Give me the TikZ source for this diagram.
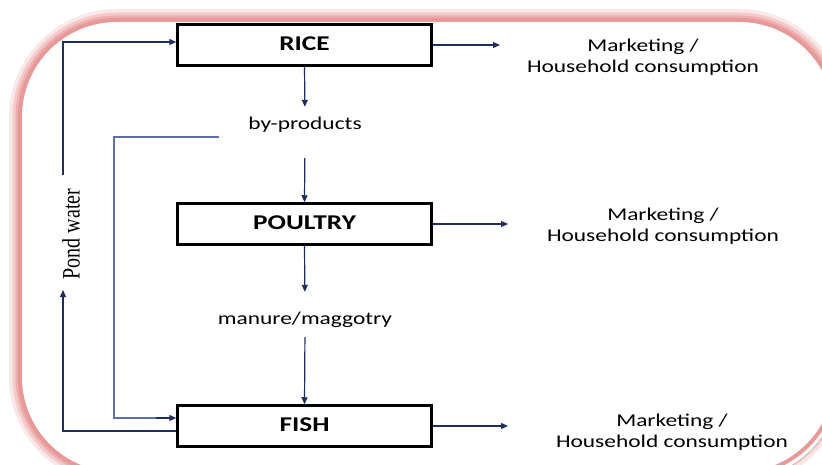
\documentclass[tikz,border=0pt]{standalone}
\usepackage{fontspec}
\setmainfont{Liberation Serif}
\newfontfamily\calib[FakeStretch=1.3]{Carlito}
\newfontfamily\pondfont[FakeStretch=0.8]{Liberation Serif}
\usetikzlibrary{arrows.meta,calc}
\definecolor{navy}{RGB}{31,45,95}
\definecolor{lblue}{RGB}{95,112,170}
\definecolor{glow}{RGB}{230,140,140}
\definecolor{shade}{RGB}{160,75,75}
\begin{document}
\begin{tikzpicture}[x=1pt,y=-1pt,
  box/.style={draw=black, line width=2.5pt, minimum width=254, minimum height=41, inner sep=0pt, text depth=3pt, font=\calib\bfseries\fontsize{21}{24}\selectfont},
  lbl/.style={inner sep=0pt, text height=12pt, text depth=4pt, font=\calib\fontsize{18}{21}\selectfont},
  mkt/.style={inner sep=0pt, align=center, font=\calib\fontsize{18}{21}\selectfont},
  pond/.style={inner sep=0pt, font=\pondfont\fontsize{25}{27}\selectfont},
  arr/.style={draw=navy, line width=1.2pt, -{Triangle[length=7pt,width=6pt]}},
  frame/.style={rounded corners=95}]
\useasboundingbox (0,0) rectangle (822,465);
% frame with glow
\begin{scope}
\clip (0,0) rectangle (822,465);
\draw[glow!20, line width=26pt, frame] (22,22) rectangle (834,472);
\draw[glow!45, line width=19pt, frame] (22,22) rectangle (834,472);
\draw[glow!70, line width=13pt, frame] (22,22) rectangle (834,472);
\fill[shade, frame] (26,27) rectangle (839,478);
\draw[glow!90, line width=8pt, frame] (22,22) rectangle (834,472);
\fill[white, frame] (22,22) rectangle (834,472);
\end{scope}
% boxes
\node[box] (rice) at (304.5,45) {RICE};
\node[box] (poultry) at (304.5,224) {POULTRY};
\node[box] (fish) at (304.5,426) {FISH};
% intermediate labels
\node[lbl] (byp) at (305,126) {by-products};
\node[lbl] (man) at (305,320) {manure/maggotry};
% marketing labels
\node[mkt] (m1) at (643,57) {Marketing /\\Household consumption};
\node[mkt] (m2) at (663,226) {Marketing /\\Household consumption};
\node[mkt] (m3) at (672,432) {Marketing /\\Household consumption};
% pond water label
\node[pond, rotate=90] (pw) at (71,234) {Pond water};
% coordinates
\coordinate (e1) at (500,45);
\coordinate (e2) at (508,224);
\coordinate (e3) at (508,426);
\coordinate (pwb) at (63,290);
\coordinate (pwt) at (63,175);
\coordinate (bpa) at (219,137);
\coordinate (bpb) at (114,418);
% vertical flow
\draw[arr, shorten >=11pt] (rice.south) -- (byp.north);
\draw[arr, shorten <=24pt] (byp.south) -- (poultry.north);
\draw[arr, shorten >=20pt] (poultry.south) -- (man.north);
\draw[arr, shorten <=9pt] (man.south) -- (fish.north);
% outputs
\draw[arr] (rice.east) -- (e1);
\draw[arr] (poultry.east) -- (e2);
\draw[arr] (fish.east) -- (e3);
% pond water loop
\draw[arr] ($(fish.west)+(0,5)$) -| (pwb);
\draw[arr] (pwt) |- ($(rice.west)+(0,-3)$);
% by-products loop
\draw[draw=lblue, line width=1.2pt] (bpa) -| (bpb) -- ($(fish.west)+(-20,-8)$);
\draw[arr] ($(fish.west)+(-20,-8)$) -- ($(fish.west)+(0,-8)$);
\end{tikzpicture}
\end{document}
